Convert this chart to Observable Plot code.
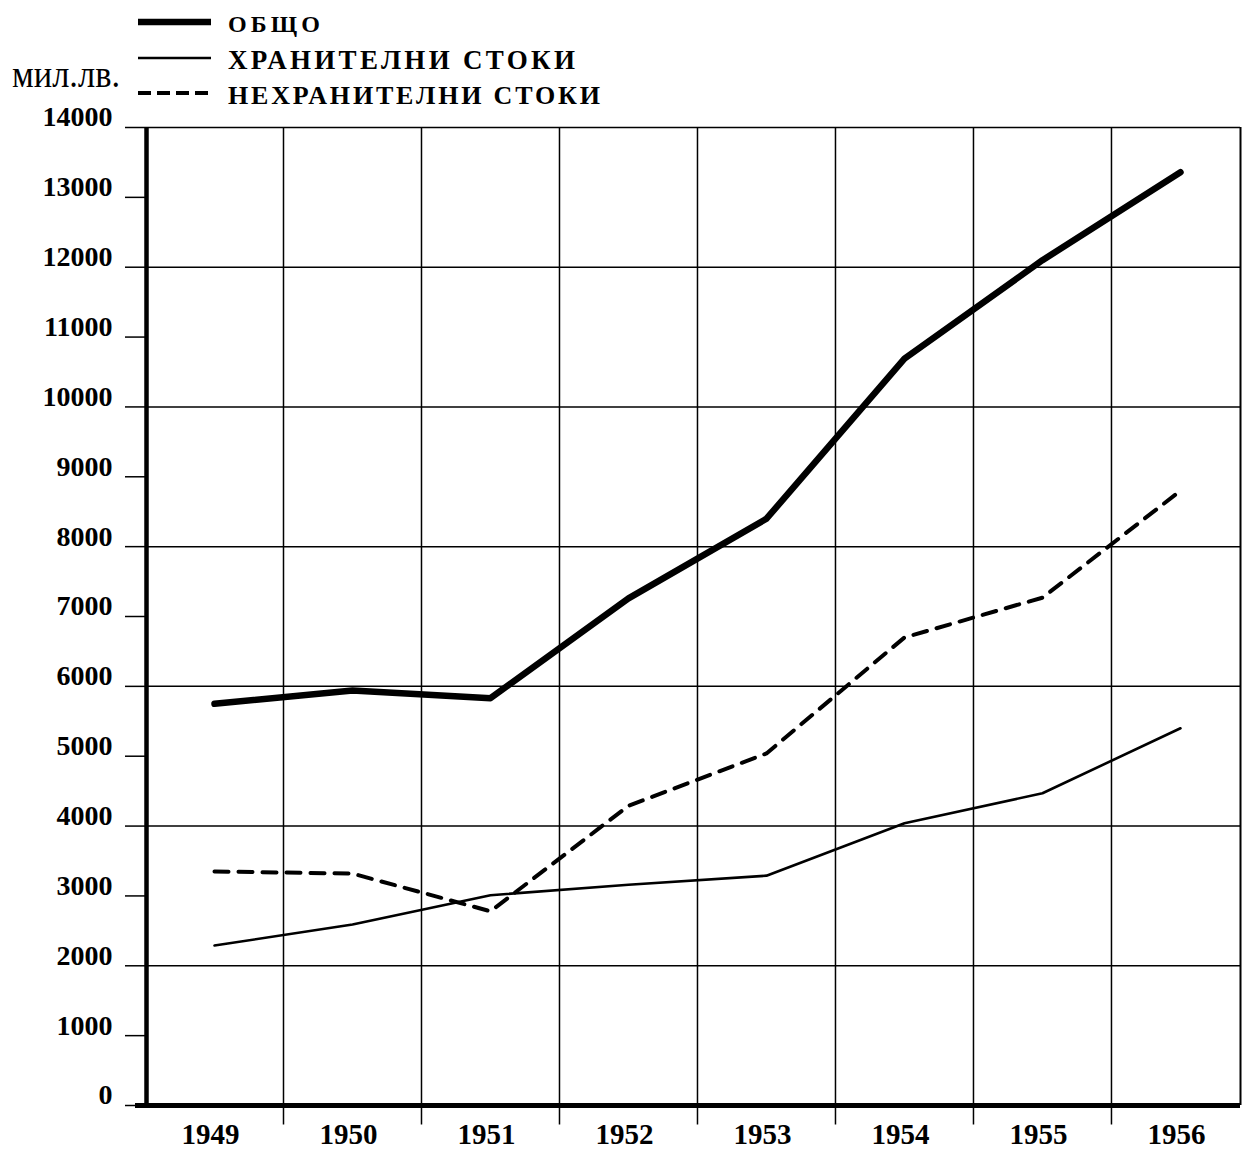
<!DOCTYPE html>
<html><head><meta charset="utf-8">
<script src="https://cdn.jsdelivr.net/npm/d3@7"></script>
<script src="https://cdn.jsdelivr.net/npm/@observablehq/plot@0.6"></script>
<style>
body{margin:0;background:#fff;}
#wrap{position:relative;width:1242px;height:1149px;overflow:hidden;background:#fff;}
#legend{position:absolute;left:0;top:0;z-index:2;overflow:visible;}
#chart{position:absolute;left:0;top:95px;}
#chart svg{overflow:visible;}
</style></head><body>
<div id="wrap"><svg id="legend" width="1242" height="120"></svg><div id="chart"></div></div>
<script>
// ---- data ----
const years = [1949, 1950, 1951, 1952, 1953, 1954, 1955, 1956];
const total = [5750, 5940, 5830, 7260, 8400, 10690, 12100, 13360];
const food = [2290, 2590, 3010, 3160, 3290, 4040, 4470, 5400];
const nonfood = [3350, 3320, 2780, 4290, 5040, 6700, 7270, 8800];
const seriesNames = ["ОБЩО", "ХРАНИТЕЛНИ СТОКИ", "НЕХРАНИТЕЛНИ СТОКИ"];
const unitLabel = "мил.лв.";
const yTicks = d3.range(0, 14001, 1000);

// ---- derived ----
const gridY = yTicks.filter(v => v > 0 && v % 2000 === 0);
const bandEdges = years.slice(0, -1).map(y => y + 0.5);
const xDomain = [years[0] - 0.5, years[years.length - 1] + 0.435];
const rows = (vals) => years.map((yr, i) => ({year: yr, value: vals[i]}));

const styles = [
  {strokeWidth: 6.5, dash: null, legendDash: null},
  {strokeWidth: 2.6, dash: null, legendDash: null},
  {strokeWidth: 4, dash: "14,10", legendDash: "13,6"}
];

// ---- legend ----
const lg = d3.select("#legend");
const legendLayout = [
  {cy: 22, base: 32, size: 24, len: 92},
  {cy: 58, base: 69, size: 27, len: 347},
  {cy: 93, base: 104, size: 26, len: 372}
];
seriesNames.forEach((name, i) => {
  const L = legendLayout[i];
  lg.append("line").attr("x1", 138).attr("x2", 211).attr("y1", L.cy).attr("y2", L.cy)
    .attr("stroke", "#000").attr("stroke-width", styles[i].strokeWidth)
    .attr("stroke-dasharray", styles[i].legendDash);
  lg.append("text").attr("x", 228).attr("y", L.base).text(name)
    .attr("font-family", "Liberation Serif").attr("font-weight", "bold")
    .attr("font-size", L.size).attr("textLength", L.len).attr("lengthAdjust", "spacing")
    .attr("fill", "#000");
});
lg.append("text").attr("x", 12).attr("y", 87).text(unitLabel)
  .attr("font-family", "Liberation Serif").attr("font-size", 38)
  .attr("textLength", 108).attr("lengthAdjust", "spacingAndGlyphs").attr("fill", "#000");

// ---- chart ----
const chart = Plot.plot({
  width: 1242,
  height: 1054,
  marginLeft: 145,
  marginRight: 2,
  marginTop: 32,
  marginBottom: 44,
  x: {domain: xDomain, axis: null},
  y: {domain: [0, 14000], axis: null},
  style: {background: "transparent", fontFamily: "Liberation Serif", color: "#000"},
  marks: [
    Plot.ruleY(gridY, {stroke: "#000", strokeWidth: 1.5}),
    Plot.ruleX(bandEdges, {y1: -280, y2: 14000, stroke: "#000", strokeWidth: 1.5}),
    Plot.ruleX([xDomain[1]], {y1: 0, y2: 14000, stroke: "#000", strokeWidth: 2}),
    Plot.axisY({ticks: yTicks, tickSize: 20, tickFormat: () => "", label: null, strokeWidth: 1.5}),
    Plot.axisY({ticks: yTicks, tickSize: 0, tickPadding: 33, tickFormat: d => String(d), label: null,
      fontSize: 28, fontWeight: "bold", dy: -10}),
    Plot.axisX({ticks: years, tickSize: 0, tickPadding: 18, tickFormat: d => String(d), label: null,
      fontSize: 29, fontWeight: "bold", dx: -4}),
    Plot.ruleX([xDomain[0]], {y1: 0, y2: 14000, stroke: "#000", strokeWidth: 4.5, dx: 1}),
    Plot.ruleY([0], {stroke: "#000", strokeWidth: 5, insetLeft: -10}),
    Plot.line(rows(food), {x: "year", y: "value", stroke: "#000", strokeWidth: styles[1].strokeWidth,
      strokeLinejoin: "round", strokeLinecap: "round"}),
    Plot.line(rows(nonfood), {x: "year", y: "value", stroke: "#000", strokeWidth: styles[2].strokeWidth,
      strokeDasharray: styles[2].dash, strokeLinejoin: "round"}),
    Plot.line(rows(total), {x: "year", y: "value", stroke: "#000", strokeWidth: styles[0].strokeWidth,
      strokeLinejoin: "round", strokeLinecap: "round"})
  ]
});
document.getElementById("chart").appendChild(chart);
</script>
</body></html>
